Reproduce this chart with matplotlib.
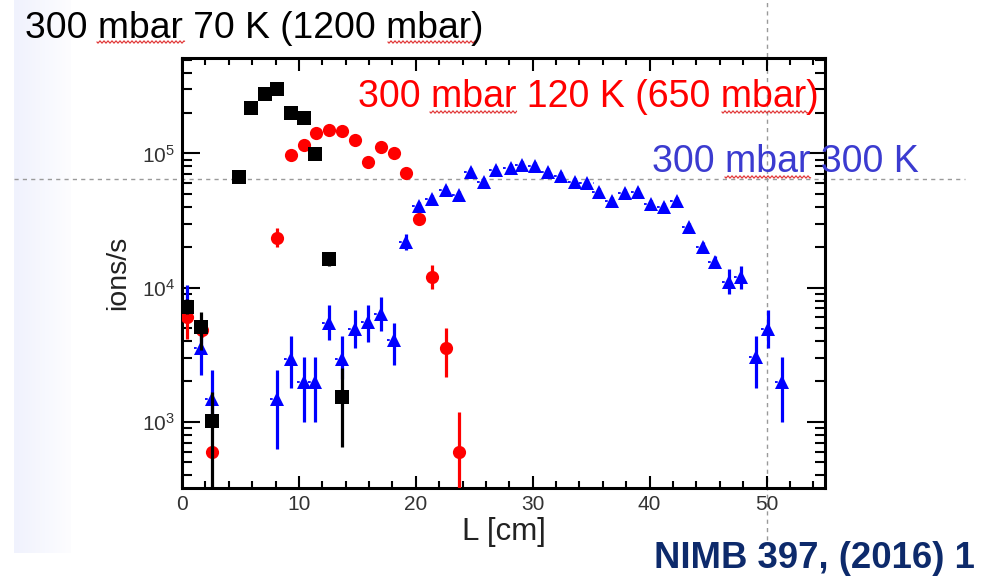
import matplotlib
matplotlib.use("Agg")
import matplotlib.pyplot as plt
import numpy as np
from matplotlib.colors import LinearSegmentedColormap
from matplotlib.ticker import MultipleLocator, LogLocator, NullFormatter

plt.rcParams["font.family"] = ["Liberation Sans", "DejaVu Sans"]
plt.rcParams["mathtext.fontset"] = "custom"
plt.rcParams["mathtext.rm"] = "Liberation Sans"

# 300 mbar, 70 K (black squares)
bk_x = [0.4, 1.6, 2.6, 4.9, 5.9, 7.1, 8.1, 9.3, 10.4, 11.4, 12.6, 13.7]
bk_y = [7200, 5100, 1020, 67000, 218000, 277000, 301000, 200000, 185000, 99000, 16400, 1540]
bk_lo = [6400, 3410, 100, 64000, 210000, 268000, 292000, 193000, 179000, 95000, 14600, 650]
bk_hi = [8200, 6580, 1670, 70000, 226000, 286000, 310000, 207000, 191000, 103000, 18400, 2510]

# 300 mbar, 120 K (red circles)
rd_x = [0.4, 1.7, 2.6, 8.1, 9.3, 10.4, 11.5, 12.6, 13.7, 14.8, 15.9, 17.0, 18.1, 19.2, 20.3, 21.4, 22.6, 23.7]
rd_y = [6000, 4800, 600, 23500, 97700, 116000, 143000, 150000, 146000, 126000, 86700, 111000, 100000, 71400, 32500, 12000, 3570, 600]
rd_lo = [4120, 4300, 560, 20000, 95000, 113000, 139000, 146000, 142000, 122000, 84000, 108000, 97000, 69000, 29600, 9750, 2160, 100]
rd_hi = [7600, 5400, 640, 27600, 100500, 119000, 147000, 154000, 150000, 130000, 89500, 114000, 103000, 74000, 35700, 14800, 4980, 1190]

# 300 mbar, 300 K (blue triangles)
bl_x = [0.4, 1.6, 2.6, 8.1, 9.3, 10.4, 11.4, 12.6, 13.7, 14.8, 15.9, 17.0, 18.1,
        19.2, 20.3, 21.4, 22.6, 23.7, 24.7, 25.8, 26.9, 28.1, 29.1, 30.2, 31.3,
        32.4, 33.6, 34.6, 35.7, 36.8, 37.9, 39.0, 40.1, 41.2, 42.3, 43.4, 44.6,
        45.6, 46.8, 47.8, 49.1, 50.1, 51.3]
bl_y = [7600, 3520, 1490, 1470, 2960, 1980, 1980, 5440, 2960, 4940, 5530, 6400, 4040,
        21800, 40800, 45800, 53400, 49300, 72300, 60800, 75400, 77800, 82000, 81100, 72300,
        68200, 60800, 59800, 51300, 44500, 50500, 51300, 42100, 39700, 43900, 28500, 20000,
        15500, 11000, 12000, 3040, 4940, 1980]
bl_lo = [6100, 2240, 1000, 630, 1800, 1000, 1000, 4050, 2100, 3520, 3940, 4790, 2630,
         19000, 38000, 42600, 49700, 45800, 67200, 56500, 70100, 72400, 76300, 75400, 67200,
         63400, 56500, 55600, 47700, 41400, 47000, 47700, 39200, 36900, 40800, 26500, 18000,
         13900, 9000, 9800, 1800, 3520, 1000]
bl_hi = [10400, 4790, 2420, 2430, 4370, 3020, 3020, 7380, 4340, 6760, 7380, 8510, 5440,
         25000, 43700, 49000, 57100, 52800, 77400, 65100, 80700, 83200, 87700, 86800, 77400,
         73000, 65100, 64000, 54900, 47600, 54000, 54900, 45000, 42500, 47000, 30500, 22000,
         17200, 13800, 14600, 4330, 6760, 3020]

x_lim = (0, 55)
y_lim = (321, 515000)

W, H = 987, 577


def yerr(y, lo, hi):
    y, lo, hi = np.array(y, float), np.array(lo, float), np.array(hi, float)
    return [y - lo, hi - y]


def squiggle(fig, x0, x1, y):
    # red spell-check underline from the slide, in pixel units
    xs = np.arange(x0, x1, 0.5)
    ys = y + 1.1 * np.sin((xs - x0) * np.pi / 2)
    fig.add_artist(plt.Line2D(xs / W, 1 - ys / H, color="#e03030", lw=0.8))


fig = plt.figure(figsize=(W / 100, H / 100), dpi=100)
fig.patch.set_facecolor("white")

# pale slide strip on the left
strip = fig.add_axes([14 / W, 1 - 553 / H, 57 / W, 553 / H], zorder=-5)
cmap = LinearSegmentedColormap.from_list("strip", ["#f0f2fd", "#fdfdff"])
strip.imshow(np.linspace(0, 1, 64)[None, :], aspect="auto", cmap=cmap)
strip.axis("off")

ax = fig.add_axes([182 / W, 1 - 488 / H, 643 / W, 430 / H])
ax.set_facecolor("none")
ax.set_yscale("log")
ax.set_xlim(*x_lim)
ax.set_ylim(*y_lim)

ax.errorbar(bl_x, bl_y, yerr=yerr(bl_y, bl_lo, bl_hi), fmt="^", color="blue",
            ms=10, mew=0, elinewidth=2.3, capsize=0, zorder=3)
xe = ax.errorbar(bl_x, bl_y, xerr=0.6, fmt="none", ecolor="blue", elinewidth=1.3, zorder=2)
for c in xe[2]:
    c.set_linestyle((0, (1.5, 2.5)))
ax.errorbar(rd_x, rd_y, yerr=yerr(rd_y, rd_lo, rd_hi), fmt="o", color="red",
            ms=9.5, mew=0, elinewidth=2.3, capsize=0, zorder=4)
ax.errorbar(bk_x, bk_y, yerr=yerr(bk_y, bk_lo, bk_hi), fmt="s", color="black",
            ms=9.5, mew=0, elinewidth=2.3, capsize=0, zorder=5)

for s in ax.spines.values():
    s.set_linewidth(2.2)
ax.xaxis.set_major_locator(MultipleLocator(10))
ax.xaxis.set_minor_locator(MultipleLocator(2))
ax.yaxis.set_major_locator(LogLocator(base=10))
ax.yaxis.set_minor_locator(LogLocator(base=10, subs=np.arange(2, 10)))
ax.yaxis.set_minor_formatter(NullFormatter())
ax.tick_params(which="both", direction="in", top=True, right=True, width=1.5,
               labelsize=15, labelcolor="#333333", pad=5)
ax.tick_params(axis="x", which="major", length=9)
ax.tick_params(axis="x", which="minor", length=5)
ax.tick_params(axis="y", which="major", length=13)
ax.tick_params(axis="y", which="minor", length=7)

ax.set_xlabel("L [cm]", fontsize=22.5, color="#222222", labelpad=2)
ax.set_ylabel("ions/s", fontsize=20.5, color="#222222", labelpad=8)

# grey guide lines crossing the slide
ax.axhline(65000, xmin=-0.261, xmax=1.218, clip_on=False, color="#9a9a9a",
           lw=1, dashes=(3, 3), zorder=1)
ax.axvline(50, ymin=-0.121, ymax=1.135, clip_on=False, color="#9a9a9a",
           lw=1, dashes=(3, 3), zorder=1)

fig.text(25 / W, 1 - 38 / H, "300 mbar 70 K (1200 mbar)", fontsize=26.8,
         color="black", va="baseline", ha="left")
fig.text(358 / W, 1 - 107 / H, "300 mbar 120 K (650 mbar)", fontsize=27,
         color="red", va="baseline", ha="left")
fig.text(652 / W, 1 - 172 / H, "300 mbar 300 K", fontsize=27,
         color="#3b3bd0", va="baseline", ha="left")
fig.text(975 / W, 1 - 568 / H, "NIMB 397, (2016) 1", fontsize=26.3,
         color="#0d2a6b", fontweight="bold", va="baseline", ha="right")

for x0, x1, y in [(97, 185, 42), (388, 475, 42), (430, 517, 112),
                  (722, 808, 112), (725, 811, 177)]:
    squiggle(fig, x0, x1, y)

fig.savefig("out.png", dpi=100, facecolor=fig.get_facecolor())
